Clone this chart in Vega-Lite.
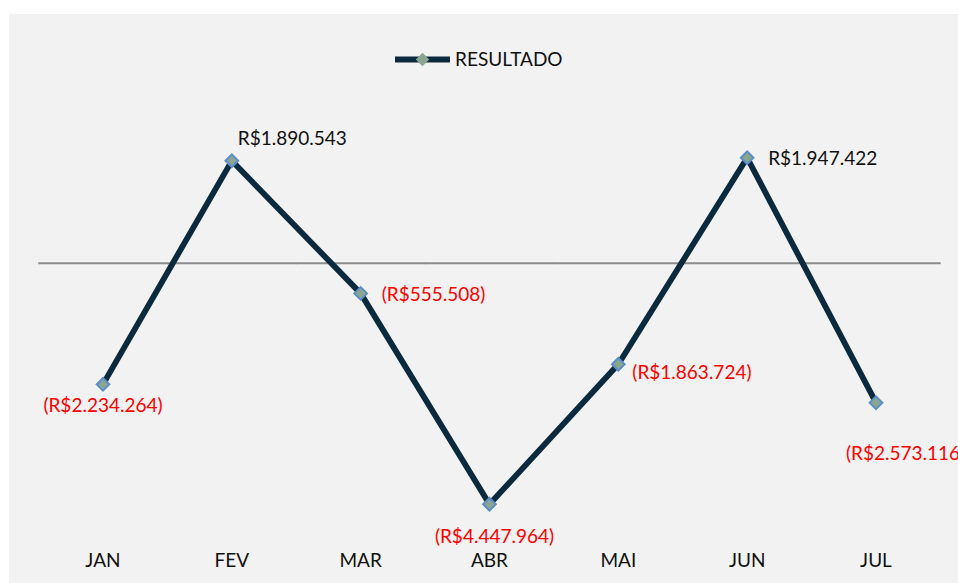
{
  "$schema": "https://vega.github.io/schema/vega-lite/v6.json",
  "width": 949,
  "height": 569,
  "autosize": {"type": "none"},
  "padding": {"left": 9, "top": 14, "right": 0, "bottom": 0},
  "background": "#ffffff",
  "config": {
    "view": {"fill": "#f2f2f2", "stroke": null},
    "locale": {"number": {"decimal": ",", "thousands": ".", "grouping": [3], "currency": ["R$", ""]}},
    "font": "Lato",
    "axisX": {"ticks": false, "domain": false, "grid": false, "labelFont": "Lato", "labelFontSize": 19, "labelColor": "#111111", "labelPadding": 0, "offset": -32, "labelAngle": 0}
  },
  "data": {
    "values": [
      {"mes": "JAN", "valor": -2234264, "serie": "RESULTADO", "marcador": "RESULTADO"},
      {"mes": "FEV", "valor": 1890543, "serie": "RESULTADO", "marcador": "RESULTADO"},
      {"mes": "MAR", "valor": -555508, "serie": "RESULTADO", "marcador": "RESULTADO"},
      {"mes": "ABR", "valor": -4447964, "serie": "RESULTADO", "marcador": "RESULTADO"},
      {"mes": "MAI", "valor": -1863724, "serie": "RESULTADO", "marcador": "RESULTADO"},
      {"mes": "JUN", "valor": 1947422, "serie": "RESULTADO", "marcador": "RESULTADO"},
      {"mes": "JUL", "valor": -2573116, "serie": "RESULTADO", "marcador": "RESULTADO"}
    ]
  },
  "encoding": {
    "x": {
      "field": "mes",
      "type": "nominal",
      "title": null,
      "sort": null,
      "scale": {"type": "band", "paddingInner": 0, "paddingOuter": 0.183, "align": 0.627, "domain": ["JAN", "FEV", "MAR", "ABR", "MAI", "JUN", "JUL"]}
    },
    "y": {
      "field": "valor",
      "type": "quantitative",
      "scale": {"domain": [-5900000, 4600000], "nice": false, "zero": false},
      "axis": null
    }
  },
  "layer": [
    {
      "mark": {"type": "tick", "orient": "horizontal", "size": 129.5, "thickness": 2, "color": "#8c8c8c", "opacity": 1},
      "encoding": {
        "y": {"datum": 0}
      }
    },
    {
      "mark": {"type": "line", "strokeWidth": 5.8, "strokeJoin": "round", "strokeCap": "round"},
      "encoding": {
        "color": {
          "field": "serie",
          "type": "nominal",
          "scale": {"range": ["#0c2a3e"]},
          "legend": {"orient": "none", "legendX": 383, "legendY": 15, "title": null, "symbolType": "stroke", "symbolSize": 3025, "symbolStrokeWidth": 5.8, "labelFontSize": 19, "labelFont": "Lato", "labelColor": "#111111", "padding": 0, "labelOffset": 2}
        }
      }
    },
    {
      "mark": {"type": "point", "filled": true, "fill": "#8aa690", "stroke": "#5b8ec9", "strokeWidth": 2, "size": 160, "opacity": 1},
      "encoding": {
        "shape": {
          "field": "marcador",
          "type": "nominal",
          "scale": {"range": ["diamond"]},
          "legend": {"orient": "none", "legendX": 405.5, "legendY": 37.5, "title": null, "labelExpr": "''", "symbolSize": 180, "symbolFillColor": "#8aa690", "symbolStrokeColor": "#5b8ec9", "symbolStrokeWidth": 2, "padding": 0}
        }
      }
    },
    {
      "transform": [{"filter": "datum.mes === 'JAN'"}],
      "mark": {"type": "text", "align": "center", "baseline": "middle", "dx": 0, "dy": 22, "fontSize": 19, "font": "Lato"},
      "encoding": {"text": {"field": "valor", "type": "quantitative", "format": "($,.0f"}, "color": {"condition": {"test": "datum.valor < 0", "value": "#ff0000"}, "value": "#111111"}}
    },
    {
      "transform": [{"filter": "datum.mes === 'FEV'"}],
      "mark": {"type": "text", "align": "left", "baseline": "middle", "dx": 6, "dy": -22, "fontSize": 19, "font": "Lato"},
      "encoding": {"text": {"field": "valor", "type": "quantitative", "format": "($,.0f"}, "color": {"condition": {"test": "datum.valor < 0", "value": "#ff0000"}, "value": "#111111"}}
    },
    {
      "transform": [{"filter": "datum.mes === 'MAR'"}],
      "mark": {"type": "text", "align": "left", "baseline": "middle", "dx": 21, "dy": 2, "fontSize": 19, "font": "Lato"},
      "encoding": {"text": {"field": "valor", "type": "quantitative", "format": "($,.0f"}, "color": {"condition": {"test": "datum.valor < 0", "value": "#ff0000"}, "value": "#111111"}}
    },
    {
      "transform": [{"filter": "datum.mes === 'ABR'"}],
      "mark": {"type": "text", "align": "center", "baseline": "middle", "dx": 5, "dy": 33, "fontSize": 19, "font": "Lato"},
      "encoding": {"text": {"field": "valor", "type": "quantitative", "format": "($,.0f"}, "color": {"condition": {"test": "datum.valor < 0", "value": "#ff0000"}, "value": "#111111"}}
    },
    {
      "transform": [{"filter": "datum.mes === 'MAI'"}],
      "mark": {"type": "text", "align": "left", "baseline": "middle", "dx": 14, "dy": 9, "fontSize": 19, "font": "Lato"},
      "encoding": {"text": {"field": "valor", "type": "quantitative", "format": "($,.0f"}, "color": {"condition": {"test": "datum.valor < 0", "value": "#ff0000"}, "value": "#111111"}}
    },
    {
      "transform": [{"filter": "datum.mes === 'JUN'"}],
      "mark": {"type": "text", "align": "left", "baseline": "middle", "dx": 21, "dy": 1, "fontSize": 19, "font": "Lato"},
      "encoding": {"text": {"field": "valor", "type": "quantitative", "format": "($,.0f"}, "color": {"condition": {"test": "datum.valor < 0", "value": "#ff0000"}, "value": "#111111"}}
    },
    {
      "transform": [{"filter": "datum.mes === 'JUL'"}],
      "mark": {"type": "text", "align": "left", "baseline": "middle", "dx": -30, "dy": 51, "fontSize": 19, "font": "Lato"},
      "encoding": {"text": {"field": "valor", "type": "quantitative", "format": "($,.0f"}, "color": {"condition": {"test": "datum.valor < 0", "value": "#ff0000"}, "value": "#111111"}}
    }
  ]
}
